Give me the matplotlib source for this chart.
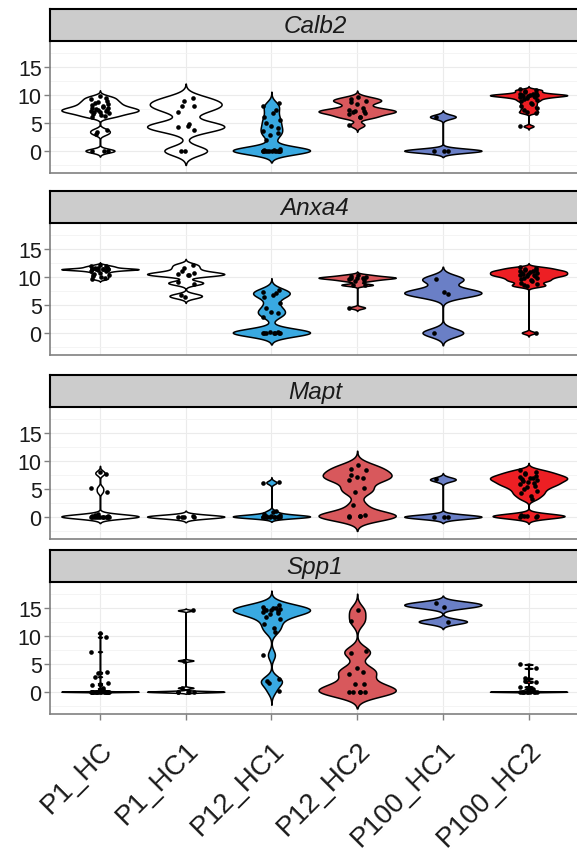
import numpy as np
import matplotlib.pyplot as plt

plt.rcParams['font.family'] = ['Liberation Sans', 'DejaVu Sans']

groups = ["P1_HC", "P1_HC1", "P12_HC1", "P12_HC2", "P100_HC1", "P100_HC2"]
genes = ["Calb2", "Anxa4", "Mapt", "Spp1"]
fills = ["#ffffff", "#ffffff", "#39a9e1", "#d8585c", "#6a7fc6", "#ed1f24"]

# expression values, one list per group
calb2 = [
    [9.8, 9.5, 9.3, 9.0, 8.8, 8.6, 8.4, 8.2, 8.0, 7.9, 7.7, 7.6, 7.5, 7.4, 7.3,
     7.2, 7.1, 7.0, 6.9, 6.8, 6.6, 6.4, 6.2, 6.0, 3.8, 3.4, 3.0, 0.0, 0.0, 0.0],
    [9.5, 8.9, 8.1, 8.0, 7.0, 4.8, 4.4, 4.3, 3.7, 0.0, 0.0],
    [8.5, 8.0, 7.4, 6.7, 6.0, 5.5, 5.0, 4.5, 4.0, 3.6, 3.2, 2.8, 2.0,
     0.3, 0.2, 0.1, 0.0, 0.0, 0.0, 0.0, 0.0, 0.0, 0.0, 0.0, 0.0, 0.0, 0.0],
    [9.6, 9.2, 9.0, 8.8, 8.3, 7.7, 7.4, 7.2, 7.1, 7.0, 6.8, 6.6, 6.1, 6.0, 4.6],
    [6.1, 0.0, 0.0, 0.0],
    [11.0, 10.9, 10.7, 10.5, 10.3, 10.2, 10.1, 10.0, 10.0, 10.0, 9.9, 9.9, 9.8,
     9.7, 9.6, 9.5, 9.3, 9.1, 8.9, 8.6, 8.3, 8.0, 7.6, 7.3, 7.0, 6.8, 4.4],
]
anxa4 = [
    [12.2, 12.0, 11.9, 11.8, 11.7, 11.6, 11.5, 11.4, 11.4, 11.4, 11.4, 11.4, 11.4,
     11.3, 11.2, 11.1, 11.0, 10.8, 10.6, 10.4, 10.2, 10.0, 9.8, 9.6],
    [12.2, 11.6, 11.0, 10.7, 10.5, 10.4, 10.3, 9.1, 8.8, 6.8, 6.4],
    [7.7, 7.4, 7.1, 6.8, 6.5, 5.3, 4.4, 3.8, 3.5, 2.9, 0.2, 0.1,
     0.0, 0.0, 0.0, 0.0, 0.0, 0.0, 0.0],
    [10.4, 10.2, 10.0, 9.9, 9.9, 9.8, 9.7, 9.5, 9.3, 8.6, 8.6, 4.5],
    [9.6, 7.4, 6.9, 0.0],
    [11.8, 11.6, 11.5, 11.3, 11.2, 11.1, 11.0, 10.9, 10.8, 10.7, 10.6, 10.5, 10.4,
     10.3, 10.2, 10.1, 9.9, 9.8, 9.6, 9.4, 9.3, 9.0, 8.7, 8.5, 8.3, 0.0],
]
mapt = [
    [8.0, 7.7, 5.2, 4.5, 0.4, 0.3, 0.2, 0.1, 0.0, 0.0, 0.0, 0.0, 0.0, 0.0,
     0.0, 0.0, 0.0, 0.0, 0.0, 0.0],
    [0.1, 0.0, 0.0, 0.0, 0.0],
    [6.2, 6.1, 1.0, 0.8, 0.4, 0.3, 0.2, 0.1, 0.0, 0.0, 0.0, 0.0, 0.0, 0.0,
     0.0, 0.0, 0.0, 0.0, 0.0, 0.0],
    [9.3, 8.5, 8.4, 7.5, 7.2, 6.9, 6.6, 5.1, 4.5, 2.1, 0.3, 0.2, 0.1, 0.1, 0.0],
    [6.7, 0.0, 0.0, 0.0],
    [8.4, 8.1, 7.8, 7.6, 7.4, 7.2, 7.0, 6.9, 6.8, 6.6, 6.4, 6.2, 6.0, 5.8, 5.6,
     5.3, 5.0, 4.6, 4.2, 3.8, 3.2, 0.3, 0.2, 0.1, 0.1, 0.0, 0.0],
]
spp1 = [
    [10.5, 9.8, 7.2, 3.5, 3.3, 2.7, 1.5, 1.2, 0.6, 0.3, 0.0, 0.0, 0.0, 0.0, 0.0,
     0.0, 0.0, 0.0, 0.0, 0.0, 0.0, 0.0, 0.0, 0.0, 0.0, 0.0, 0.0, 0.0, 0.0, 0.0],
    [14.6, 5.6, 0.7, 0.0, 0.0, 0.0, 0.0, 0.0],
    [15.6, 15.3, 15.1, 15.0, 14.9, 14.8, 14.7, 14.6, 14.5, 14.4, 14.2, 14.0,
     13.5, 13.0, 12.2, 11.5, 10.8, 6.6, 2.2, 1.9, 1.6, 0.2],
    [14.6, 12.7, 7.3, 6.9, 4.2, 3.5, 3.1, 1.4, 1.3, 0.0, 0.0, 0.0, 0.0, 0.0],
    [15.9, 15.3, 12.6],
    [4.9, 4.2, 2.4, 1.9, 1.7, 0.9, 0.5, 0.0, 0.0, 0.0, 0.0, 0.0, 0.0, 0.0,
     0.0, 0.0, 0.0],
]
# kernel bandwidths per violin
bandwidths = {
    "Calb2": [0.35, 0.85, 0.7, 0.4, 0.38, 0.2],
    "Anxa4": [0.15, 0.35, 0.7, 0.2, 0.75, 0.23],
    "Mapt":  [0.38, 0.33, 0.3, 0.85, 0.38, 0.42],
    "Spp1":  [0.06, 0.12, 0.85, 1.0, 0.45, 0.06],
}
data = {"Calb2": calb2, "Anxa4": anxa4, "Mapt": mapt, "Spp1": spp1}


def violin_shape(vals, bw):
    vals = np.asarray(vals, dtype=float)
    y = np.linspace(vals.min() - 3 * bw, vals.max() + 3 * bw, 4000)
    d = np.exp(-0.5 * ((y[:, None] - vals[None, :]) / bw) ** 2).sum(axis=1)
    return y, d / d.max() * 0.45


W, H = 577, 854
fig = plt.figure(figsize=(W / 100, H / 100), dpi=100)
tops = [42, 224, 408, 583]
panel_h = 132
strip_h = 32
left, right = 50, 580
xpos = np.arange(1, len(groups) + 1)

for i, gene in enumerate(genes):
    top = tops[i]
    ax = fig.add_axes([left / W, 1 - (top + panel_h) / H, (right - left) / W, panel_h / H])
    sax = fig.add_axes([left / W, 1 - top / H, (right - left) / W, strip_h / H])

    for j, vals in enumerate(data[gene]):
        y, w = violin_shape(vals, bandwidths[gene][j])
        ax.fill_betweenx(y, xpos[j] - w, xpos[j] + w, facecolor=fills[j],
                         edgecolor="black", linewidth=1.1, zorder=2)
        n = len(vals)
        jit = 0.1 * np.sin(np.arange(n) * 2.4 + j)
        ax.scatter(xpos[j] + jit, vals, s=11, color="black", linewidths=0, zorder=3)

    ax.set_xlim(0.417, 6.6)
    ax.set_ylim(-4.0, 19.7)
    ax.set_yticks([0, 5, 10, 15])
    ax.set_yticks([-2.5, 2.5, 7.5, 12.5, 17.5], minor=True)
    ax.set_xticks(xpos)
    ax.grid(which="major", color="#ebebeb", linewidth=0.8, zorder=0)
    ax.grid(which="minor", axis="y", color="#f3f3f3", linewidth=0.6, zorder=0)
    ax.set_axisbelow(True)
    for side in ["top", "right"]:
        ax.spines[side].set_visible(False)
    for side in ["left", "bottom"]:
        ax.spines[side].set_color("#808080")
        ax.spines[side].set_linewidth(1.2)
    ax.tick_params(axis="y", which="major", labelsize=15.5, length=4, width=1,
                   color="#808080", labelcolor="#1a1a1a", pad=2)
    ax.tick_params(which="minor", length=0)
    if i == len(genes) - 1:
        ax.tick_params(axis="x", length=4, width=1, color="#808080", pad=12)
        ax.set_xticklabels(groups, rotation=45, ha="right", va="top",
                           rotation_mode="anchor", fontsize=20, color="#1a1a1a")
    else:
        ax.tick_params(axis="x", length=0, labelbottom=False)

    sax.set_facecolor("#cccccc")
    sax.set_xticks([])
    sax.set_yticks([])
    for sp in sax.spines.values():
        sp.set_color("black")
        sp.set_linewidth(1.5)
    sax.text(0.5, 0.48, gene, transform=sax.transAxes, ha="center", va="center",
             fontsize=17.5, fontstyle="italic", color="#1a1a1a")

fig.savefig("out.png", dpi=100)
